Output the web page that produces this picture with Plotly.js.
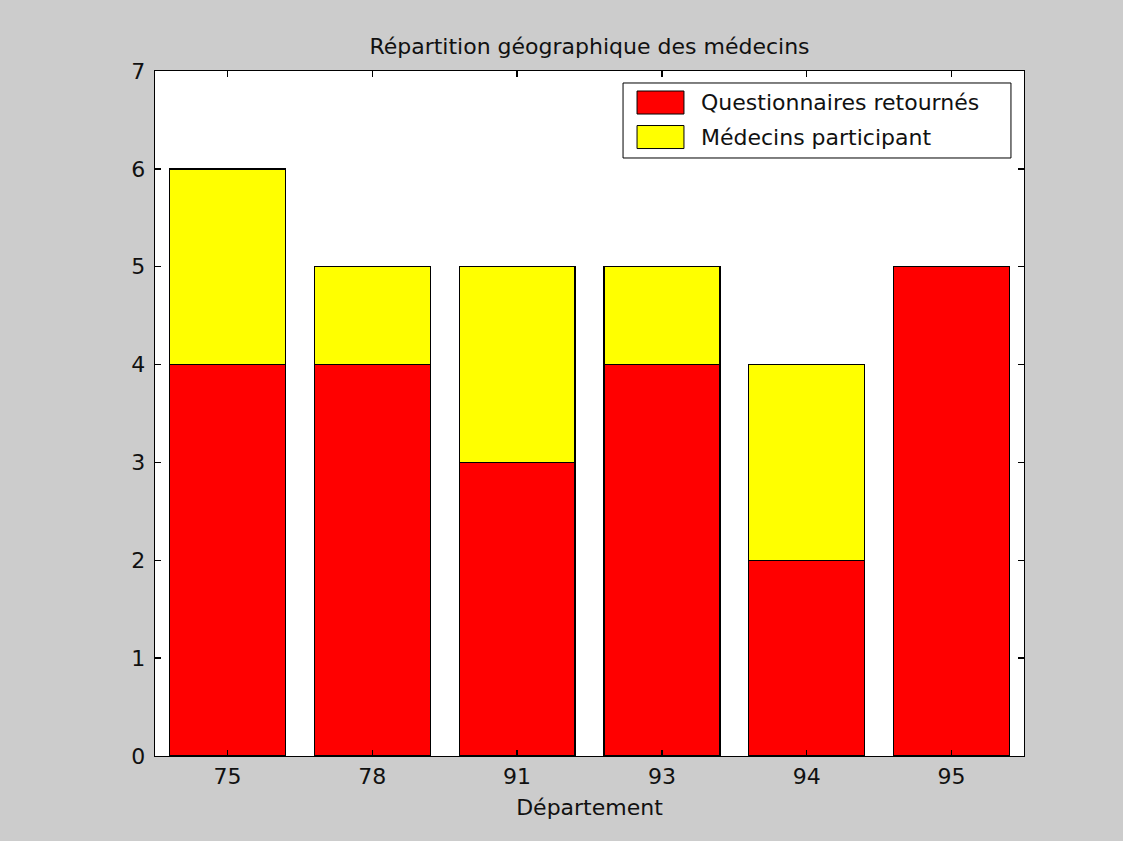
<!DOCTYPE html>
<html>
<head>
<meta charset="utf-8">
<script src="https://cdn.plot.ly/plotly-3.0.1.min.js"></script>
<style>html,body{margin:0;padding:0;background:#cccccc;}#chart{width:1123px;height:841px;}</style>
</head>
<body>
<div id="chart"></div>
<script>
const departements = ["75", "78", "91", "93", "94", "95"];
const questionnairesRetournes = [4, 4, 3, 4, 2, 5];
const medecinsParticipant = [2, 1, 2, 1, 2, 0];
const seriesNames = ["Questionnaires retournés", "Médecins participant"];
const yTicks = [0, 1, 2, 3, 4, 5, 6, 7];

const FONT = "DejaVu Sans, Arial, sans-serif";
const FS = 22;
const traces = [
  {type: "bar", x: departements, y: questionnairesRetournes, name: seriesNames[0],
   marker: {color: "#ff0000", line: {color: "#000000", width: 1.3}}},
  {type: "bar", x: departements, y: medecinsParticipant, name: seriesNames[1],
   marker: {color: "#ffff00", line: {color: "#000000", width: 1.3}}}
];

const legendColors = ["#ff0000", "#ffff00"];
const shapes = [
  {type: "rect", xref: "paper", yref: "paper", x0: 0.5386, x1: 0.985, y0: 0.873, y1: 0.9825,
   fillcolor: "#ffffff", line: {color: "#000000", width: 1}}
];
const annotations = [];
seriesNames.forEach((n, i) => {
  const yc = 0.954 - i * 0.0504;
  shapes.push({type: "rect", xref: "paper", yref: "paper", x0: 0.5547, x1: 0.6087,
    y0: yc - 0.0168, y1: yc + 0.0168, fillcolor: legendColors[i], line: {color: "#000000", width: 1}});
  annotations.push({xref: "paper", yref: "paper", x: 0.6262, y: yc, text: n, showarrow: false,
    xanchor: "left", yanchor: "middle", font: {family: FONT, size: FS, color: "#111111"}});
});

const layout = {
  width: 1123, height: 841,
  paper_bgcolor: "#cccccc", plot_bgcolor: "#ffffff",
  margin: {l: 155, r: 99, t: 71, b: 85},
  barmode: "stack", bargap: 0.2, showlegend: false,
  title: {text: "Répartition géographique des médecins", font: {family: FONT, size: FS, color: "#111111"},
          x: 0.5, xref: "paper", y: 1, yref: "paper", yanchor: "bottom", pad: {b: 17}},
  xaxis: {type: "category", showline: true, linecolor: "#000000", linewidth: 1.3, mirror: "ticks",
          ticks: "inside", ticklen: 6, tickcolor: "#000000", tickwidth: 1.3,
          tickfont: {family: FONT, size: FS, color: "#111111"},
          title: {text: "Département", font: {family: FONT, size: FS, color: "#111111"}, standoff: 12},
          showgrid: false, zeroline: false, fixedrange: true},
  yaxis: {range: [0, 7], tickvals: yTicks, showline: true, linecolor: "#000000", linewidth: 1.3, mirror: "ticks",
          ticks: "inside", ticklen: 6, tickcolor: "#000000", tickwidth: 1.3,
          tickfont: {family: FONT, size: FS, color: "#111111"}, ticklabelstandoff: 4,
          showgrid: false, zeroline: false, fixedrange: true},
  shapes: shapes, annotations: annotations
};
Plotly.newPlot("chart", traces, layout, {displayModeBar: false, staticPlot: true});
</script>
</body>
</html>
